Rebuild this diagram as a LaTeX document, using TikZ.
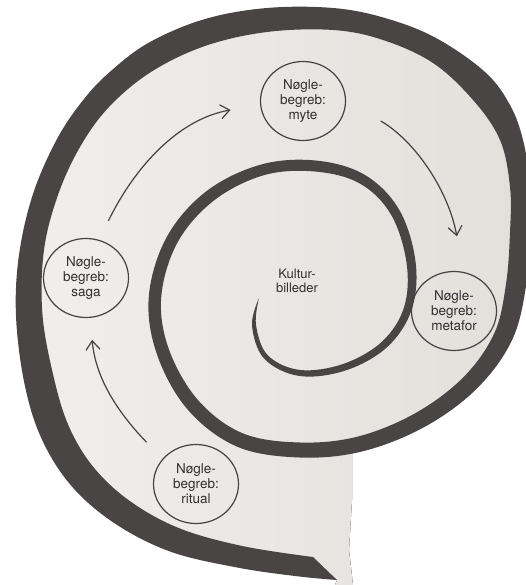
\documentclass[tikz,border=0pt]{standalone}
\usepackage{fontspec}
\setmainfont{TeX Gyre Heros}
\usepackage{xcolor}
\usepackage{tikz}
\usetikzlibrary{arrows.meta}
\usetikzlibrary{shapes.geometric}

\definecolor{Spiral}{RGB}{72,69,68}
\definecolor{Papir}{RGB}{226,224,219}
\definecolor{PapirLys}{RGB}{240,239,236}
\definecolor{Streg}{RGB}{68,66,66}
\definecolor{Tekst}{RGB}{48,48,48}

\begin{document}
\begin{tikzpicture}
[
	x				= 1pt,
	y				= 1pt,
	Begreb/.style	= {ellipse, draw = Streg, line width = 1.2pt, minimum width = 85pt, minimum height = 79pt, inner sep = 0pt, font = \fontsize{13.5}{15}\selectfont, align = center, text = Tekst},
	Midte/.style	= {font = \fontsize{13}{13.5}\selectfont, align = center, text = Tekst},
	Pil/.style		= {draw = Streg, line width = 1.2pt, -{Straight Barb[length = 9pt, width = 14pt]}},
]

	\useasboundingbox (0,0) rectangle (525,-585);

	\begin{scope}[y = -1pt]
		% the cut-out page
		\fill [left color = PapirLys, right color = Papir] plot [smooth] coordinates {(352,445) (420,420) (470,383) (503,337) (516,285) (519,231) (518,184) (511,140) (494,104) (463,72) (420,44) (370,26) (305,19) (236,26) (178,45) (128,72) (88,115) (56,172) (37,227) (29,285) (29,315) (39,380) (55,432) (82,476) (122,512) (175,540) (241,557) (300,566) (324,569)} -- (337,580) -- (335,585) -- (353,585) -- (349,550) -- (352,500) -- cycle;

		% the spiral band, outer edge out, inner edge back
		\fill [Spiral] plot [smooth, tension = 0.6] coordinates {(259,298) (252,325.2) (264.2,358.7) (299.6,376) (346.1,370.3) (387.6,346.7) (411.8,309.2) (415.5,261.4) (399.1,209.6) (364.5,174.7) (315.5,160.5) (260.5,164.7) (206.3,191.3) (166.7,237.1) (148.8,296.5) (156.9,354.2) (187.7,409.6) (237.2,446.7) (299.8,457.5) (361.9,451.5) (424,427.2) (476.2,389.2) (511.6,341) (526,286) (529,230) (529,180) (523,140) (510,105) (485,72) (436,38) (385,18) (333,8) (267,8) (205,19) (150,42) (112,70) (84,99) (57,139) (33,194) (19,255) (16,316) (24.4,383.3) (41.3,438.1) (70.9,485.3) (114.3,523.1) (170.6,551.7) (238.8,567.8) (298.5,576.4) (337,580)}
			-- plot [smooth, tension = 0.6] coordinates {(313,557) (243.2,546.2) (179.4,528.3) (129.7,500.9) (93.1,466.7) (68.7,425.9) (53.6,376.7) (42.4,313.8) (44,250) (58,195) (80,147) (109,107) (151,72) (205,46) (267,32) (333,30) (383,40) (433,63) (473,100) (500,140) (510,187) (510,232) (506,284) (494.4,333) (463.8,376.8) (416,412.8) (358.1,436.5) (300.2,442.5) (242.8,433.3) (198.3,400.4) (169.1,349.8) (161.2,297.5) (177.3,242.9) (213.7,200.7) (263.5,175.3) (314.5,171.5) (359.5,183.3) (390.9,214.4) (406.5,262.6) (404.2,306.8) (382.4,341.3) (343.9,363.7) (300.4,370) (267.8,355.3) (256,324.8) (259,298)}
			-- cycle;
	\end{scope}

	\node (kultur)	[Midte] at (297,-281) {Kultur-\\billeder};

	\node (myte)	[Begreb] at (303,-101) {Nøgle-\\begreb:\\myte};
	\node (saga)	[Begreb] at (86,-278) {Nøgle-\\begreb:\\saga};
	\node (metafor)	[Begreb] at (454,-311) {Nøgle-\\begreb:\\metafor};
	\node (ritual)	[Begreb] at (196,-484) {Nøgle-\\begreb:\\ritual};

	\draw [Pil, shorten < = 23pt, shorten > = 22pt] (ritual.143) to [out = 134, in = 275] (saga.276);
	\draw [Pil, shorten < = 21pt, shorten > = 30pt] (saga.71) to [out = 64, in = 190] (myte.185);
	\draw [Pil, shorten < = 40pt, shorten > = 36pt] (myte.0) to [out = -30, in = 100] (metafor.77);

\end{tikzpicture}
\end{document}
